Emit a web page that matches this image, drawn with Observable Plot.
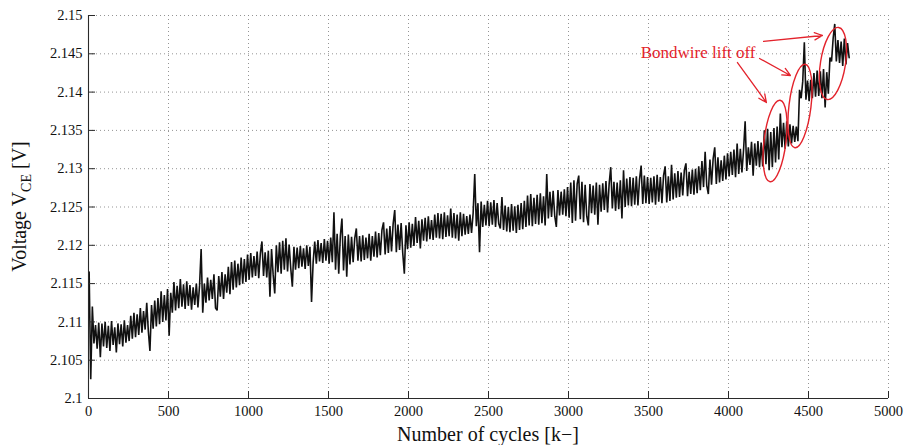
<!DOCTYPE html>
<html><head><meta charset="utf-8">
<script src="https://cdn.jsdelivr.net/npm/d3@7"></script>
<script src="https://cdn.jsdelivr.net/npm/@observablehq/plot@0.6"></script>
<style>body{margin:0;background:#fff} svg{display:block}</style>
</head><body><div id="chart"></div>
<script>
// ---- data ----
const cycleStart = 4;          // k-cycles of first sample
const cycleStep = 10;          // k-cycles between samples
const vce0to990 = [
2.1165,2.1025,2.1120,2.1072,2.1096,2.1065,2.1099,2.1054,2.1098,2.1068,
2.1100,2.1066,2.1095,2.1062,2.1101,2.1070,2.1093,2.1060,2.1098,2.1071,
2.1097,2.1068,2.1102,2.1073,2.1096,2.1075,2.1108,2.1078,2.1112,2.1080,
2.1110,2.1083,2.1118,2.1086,2.1114,2.1090,2.1125,2.1088,2.1062,2.1122,
2.1091,2.1128,2.1094,2.1131,2.1097,2.1140,2.1100,2.1135,2.1102,2.1143,
2.1082,2.1138,2.1112,2.1152,2.1115,2.1147,2.1118,2.1156,2.1120,2.1149,
2.1117,2.1153,2.1121,2.1148,2.1116,2.1145,2.1122,2.1150,2.1119,2.1147,
2.1195,2.1112,2.1150,2.1125,2.1158,2.1128,2.1155,2.1130,2.1162,2.1118,
2.1115,2.1160,2.1133,2.1165,2.1130,2.1162,2.1138,2.1172,2.1136,2.1178,
2.1142,2.1180,2.1145,2.1176,2.1148,2.1184,2.1150,2.1182,2.1152,2.1188];
const vce1000to1990 = [
2.1155,2.1190,2.1158,2.1186,2.1160,2.1192,2.1157,2.1189,2.1205,2.1160,
2.1191,2.1158,2.1193,2.1133,2.1195,2.1162,2.1137,2.1200,2.1165,2.1204,
2.1163,2.1206,2.1168,2.1209,2.1166,2.1201,2.1170,2.1146,2.1198,2.1168,
2.1197,2.1170,2.1199,2.1172,2.1196,2.1169,2.1200,2.1173,2.1198,2.1126,
2.1178,2.1205,2.1176,2.1207,2.1179,2.1203,2.1177,2.1208,2.1180,2.1206,
2.1176,2.1210,2.1178,2.1243,2.1168,2.1215,2.1163,2.1212,2.1235,2.1167,
2.1212,2.1159,2.1214,2.1175,2.1211,2.1178,2.1209,2.1222,2.1180,2.1212,
2.1179,2.1213,2.1181,2.1210,2.1183,2.1215,2.1180,2.1212,2.1185,2.1218,
2.1184,2.1216,2.1187,2.1220,2.1230,2.1188,2.1222,2.1190,2.1225,2.1192,
2.1228,2.1246,2.1191,2.1227,2.1194,2.1229,2.1190,2.1163,2.1226,2.1195];
const vce2000to2990 = [
2.1230,2.1197,2.1228,2.1199,2.1237,2.1203,2.1232,2.1196,2.1234,2.1206,
2.1236,2.1205,2.1238,2.1208,2.1233,2.1207,2.1240,2.1210,2.1242,2.1209,
2.1241,2.1208,2.1243,2.1211,2.1239,2.1212,2.1248,2.1210,2.1242,2.1209,
2.1240,2.1206,2.1243,2.1212,2.1241,2.1214,2.1238,2.1215,2.1240,2.1216,
2.1242,2.1293,2.1225,2.1255,2.1191,2.1257,2.1224,2.1253,2.1226,2.1258,
2.1225,2.1256,2.1227,2.1259,2.1224,2.1255,2.1228,2.1222,2.1263,2.1220,
2.1252,2.1218,2.1250,2.1217,2.1254,2.1219,2.1251,2.1216,2.1253,2.1220,
2.1255,2.1221,2.1258,2.1224,2.1265,2.1226,2.1267,2.1225,2.1262,2.1228,
2.1266,2.1227,2.1268,2.1229,2.1264,2.1226,2.1293,2.1235,2.1270,2.1237,
2.1271,2.1238,2.1224,2.1272,2.1239,2.1270,2.1240,2.1273,2.1238,2.1276];
const vce3000to3990 = [
2.1236,2.1282,2.1229,2.1285,2.1232,2.1280,2.1291,2.1234,2.1283,2.1230,
2.1279,2.1238,2.1226,2.1280,2.1242,2.1278,2.1240,2.1282,2.1227,2.1279,
2.1244,2.1281,2.1246,2.1284,2.1243,2.1280,2.1302,2.1248,2.1283,2.1245,
2.1282,2.1247,2.1285,2.1235,2.1298,2.1250,2.1287,2.1252,2.1289,2.1251,
2.1288,2.1253,2.1290,2.1252,2.1286,2.1304,2.1254,2.1291,2.1255,2.1289,
2.1254,2.1288,2.1256,2.1290,2.1253,2.1292,2.1257,2.1289,2.1255,2.1291,
2.1303,2.1256,2.1290,2.1258,2.1305,2.1260,2.1294,2.1262,2.1297,2.1263,
2.1295,2.1265,2.1298,2.1307,2.1264,2.1296,2.1267,2.1299,2.1266,2.1300,
2.1268,2.1303,2.1272,2.1310,2.1276,2.1322,2.1278,2.1267,2.1312,2.1279,
2.1313,2.1328,2.1280,2.1315,2.1282,2.1311,2.1284,2.1317,2.1286,2.1320];
const vce4000to4750 = [
2.1290,2.1322,2.1292,2.1325,2.1289,2.1333,2.1293,2.1326,2.1295,2.1324,
2.1362,2.1297,2.1328,2.1305,2.1335,2.1291,2.1333,2.1304,2.1336,2.1302,
2.1334,2.1303,2.1350,2.1306,2.1352,2.1298,2.1348,2.1302,2.1353,2.1308,
2.1355,2.1312,2.1372,2.1328,2.1360,2.1326,2.1362,2.1329,2.1358,2.1333,
2.1356,2.1335,2.1355,2.1336,2.1403,2.1392,2.1414,2.1465,2.1390,2.1415,
2.1388,2.1416,2.1392,2.1425,2.1394,2.1428,2.1395,2.1427,2.1392,2.1430,
2.1380,2.1426,2.1398,2.1445,2.1440,2.1470,2.1489,2.1440,2.1468,2.1438,
2.1466,2.1434,2.1470,2.1436,2.1464,2.1445];

const xTicks = [0,500,1000,1500,2000,2500,3000,3500,4000,4500,5000];
const yTicks = [2.1,2.105,2.11,2.115,2.12,2.125,2.13,2.135,2.14,2.145,2.15];
const yTickLabels = ["2.1","2.105","2.11","2.115","2.12","2.125","2.13","2.135","2.14","2.145","2.15"];
const xLabel = "Number of cycles [k\u2212]";
const yLabelMain = "Voltage V";
const yLabelSub = "CE";
const yLabelUnit = " [V]";

// annotation (data coordinates)
const annotText = "Bondwire lift off";
const annotX = 4169, annotY = 2.14522;
const arrowX1 = [4056, 4194, 4219];
const arrowY1 = [2.14386, 2.14439, 2.14661];
const arrowX2 = [4237, 4387, 4587];
const arrowY2 = [2.13864, 2.14217, 2.14739];
const ellipseX = [4294, 4450, 4656];
const ellipseY = [2.13355, 2.13812, 2.14367];

// ---- build ----
const vce = [...vce0to990, ...vce1000to1990, ...vce2000to2990, ...vce3000to3990, ...vce4000to4750];
const series = vce.map((v, i) => ({cycles: cycleStart + i * cycleStep, v}));
const red = "#e3232c";
const axisColor = "#2a2a2a";
const serif = "'Liberation Serif', 'Times New Roman', serif";

const W = 905, H = 445, mL = 88, mR = 17, mT = 15, mB = 47;
const tickLenX = 5000 * 7 / (W - mL - mR);
const tickLenY = 0.05 * 7 / (H - mT - mB);

const chart = Plot.plot({
  width: W, height: H,
  marginLeft: mL, marginRight: mR, marginTop: mT, marginBottom: mB,
  x: {domain: [0, 5000]},
  y: {domain: [2.1, 2.15]},
  style: {fontFamily: serif, fontSize: "14.5px", color: "#111", background: "#fff"},
  marks: [
    Plot.gridX(xTicks.slice(1), {stroke: "#8a8a8a", strokeOpacity: 0.9, strokeDasharray: "1,3"}),
    Plot.gridY(yTicks.slice(1), {stroke: "#8a8a8a", strokeOpacity: 0.9, strokeDasharray: "1,3"}),
    Plot.line(series, {x: "cycles", y: "v", stroke: "#111", strokeWidth: 1.6, strokeLinejoin: "miter"}),
    Plot.ruleX([0], {stroke: axisColor, strokeWidth: 1.1}),
    Plot.ruleY([2.1], {stroke: axisColor, strokeWidth: 1.1}),
    Plot.ruleY(yTicks, {x1: 0, x2: tickLenX, stroke: axisColor}),
    Plot.ruleX(xTicks, {y1: 2.1, y2: 2.1 + tickLenY, stroke: axisColor}),
    Plot.axisX(xTicks, {tickSize: 0, tickPadding: 7, label: null, tickFormat: d => String(d)}),
    Plot.axisY(yTicks, {tickSize: 0, tickPadding: 6, label: null, tickFormat: d => yTickLabels[yTicks.indexOf(d)]}),
    Plot.arrow(arrowX1, {x1: arrowX1, y1: arrowY1, x2: arrowX2, y2: arrowY2, stroke: red, strokeWidth: 1.3, headLength: 10, headAngle: 50}),
    Plot.text([annotText], {x: annotX, y: annotY, text: d => d, fill: red, fontSize: 17, textAnchor: "end", fontFamily: serif})
  ]
});

const sx = chart.scale("x"), sy = chart.scale("y");
const svg = d3.select(chart);
const ellRx = [11, 11, 12.5], ellRy = [41, 42, 36.5], ellTilt = [7, 7, 9];
ellipseX.forEach((ex, i) => {
  const px = sx.apply(ex), py = sy.apply(ellipseY[i]);
  svg.append("ellipse").attr("cx", px).attr("cy", py).attr("rx", ellRx[i]).attr("ry", ellRy[i])
    .attr("transform", `rotate(${ellTilt[i]} ${px} ${py})`)
    .attr("fill", "none").attr("stroke", red).attr("stroke-width", 1.4);
});

// axis titles
svg.append("text").attr("x", mL + (W - mL - mR) / 2).attr("y", H - 4)
  .attr("text-anchor", "middle").attr("font-family", serif).attr("font-size", 20).attr("fill", "#111")
  .text(xLabel);
const yl = svg.append("text").attr("transform", `translate(26,${mT + (H - mT - mB) / 2}) rotate(-90)`)
  .attr("text-anchor", "middle").attr("font-family", serif).attr("font-size", 20).attr("fill", "#111");
yl.append("tspan").text(yLabelMain);
yl.append("tspan").attr("font-size", 14).attr("dy", 5).text(yLabelSub);
yl.append("tspan").attr("dy", -5).text(yLabelUnit);

document.getElementById("chart").appendChild(chart);
</script>
</body></html>
